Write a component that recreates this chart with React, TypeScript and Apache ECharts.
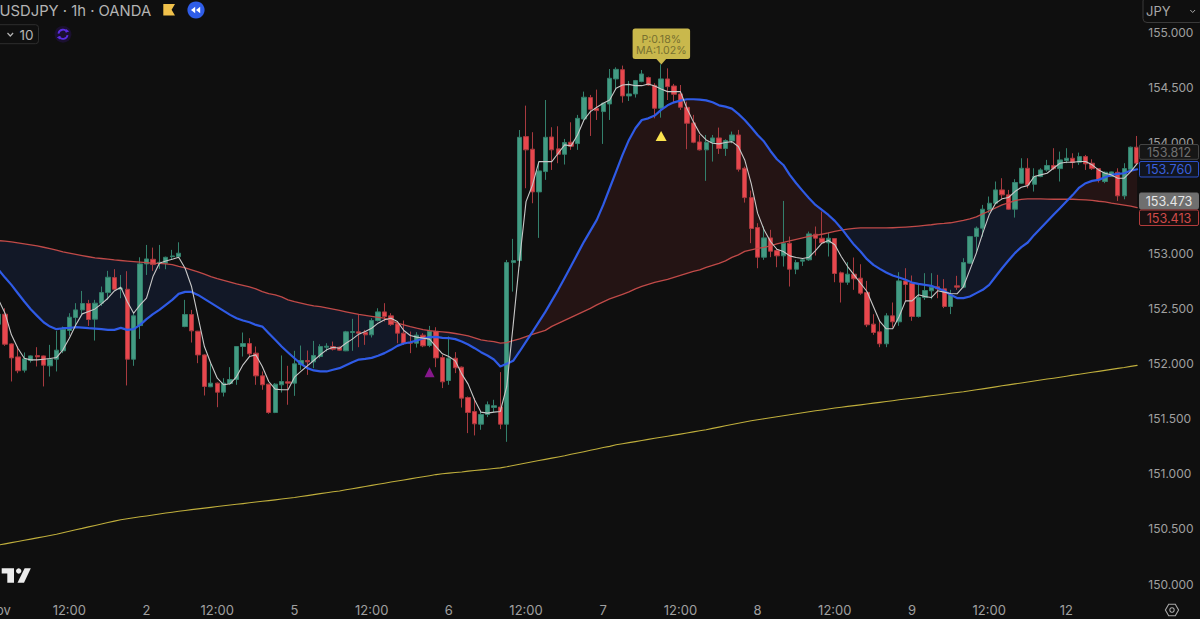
import React, { useEffect, useRef } from "react";
import * as echarts from "echarts";

// [open, close, low, high] per hourly bar
const candles: number[][] = [
[152.355,152.446,152.334,152.485],[152.446,152.174,152.159,152.500],[152.177,152.050,151.836,152.183],[152.059,151.933,151.911,152.153],[151.939,152.041,151.917,152.099],
[152.026,152.068,152.008,152.072],[152.071,152.059,151.972,152.147],[152.068,151.984,151.791,152.072],[151.978,152.038,151.881,152.168],[152.038,152.120,151.927,152.295],
[152.114,152.310,152.093,152.334],[152.298,152.419,152.250,152.455],[152.416,152.485,152.334,152.546],[152.485,152.543,152.440,152.657],[152.543,152.398,152.340,152.576],
[152.401,152.546,152.207,152.576],[152.546,152.642,152.521,152.697],[152.642,152.781,152.576,152.839],[152.778,152.672,152.660,152.854],[152.672,152.682,152.591,152.802],
[152.672,152.038,151.800,152.836],[152.038,152.431,151.978,152.455],[152.343,152.902,152.222,152.962],[152.902,152.947,152.802,153.074],[152.944,152.896,152.839,153.050],
[152.908,152.917,152.857,153.074],[152.908,152.962,152.854,152.968],[152.968,152.974,152.938,153.029],[152.968,152.999,152.953,153.098],[152.334,152.443,152.328,152.576],
[152.443,152.295,152.189,152.485],[152.292,152.077,152.002,152.295],[152.077,151.791,151.709,152.083],[151.788,151.821,151.785,152.002],[151.821,151.739,151.603,151.827],
[151.739,151.821,151.700,151.866],[151.818,151.854,151.806,151.966],[151.854,152.153,151.806,152.157],[152.153,152.180,152.062,152.280],[152.180,152.087,152.062,152.229],
[152.093,151.887,151.806,152.153],[151.887,151.806,151.761,151.927],[151.812,151.555,151.543,151.815],[151.555,151.812,151.549,151.821],[151.806,151.836,151.736,152.072],
[151.833,151.821,151.625,151.978],[151.821,151.996,151.706,152.114],[151.990,152.026,151.942,152.162],[152.026,152.014,151.896,152.117],[152.014,152.072,151.957,152.204],
[152.063,152.153,152.047,152.174],[152.147,152.156,152.108,152.183],[152.153,152.129,152.117,152.198],[152.147,152.120,152.114,152.153],[152.114,152.286,152.111,152.295],
[152.280,152.289,152.114,152.404],[152.286,152.274,152.147,152.440],[152.283,152.259,152.168,152.304],[152.259,152.389,152.235,152.410],[152.389,152.467,152.380,152.500],
[152.467,152.425,152.380,152.546],[152.431,152.352,152.340,152.455],[152.359,152.274,152.183,152.380],[152.274,152.183,152.168,152.389],[152.189,152.183,152.093,152.289],
[152.183,152.256,152.144,152.283],[152.256,152.159,152.147,152.274],[152.162,152.292,152.147,152.340],[152.292,152.050,151.966,152.328],[152.053,151.833,151.776,152.078],
[151.845,152.047,151.806,152.244],[152.047,151.960,151.912,152.102],[151.966,151.685,151.600,151.972],[151.691,151.555,151.368,151.700],[151.564,151.452,151.347,151.685],
[151.449,151.537,151.398,151.564],[151.537,151.625,151.513,151.655],[151.601,151.616,151.558,151.670],[151.604,151.449,151.404,151.921],[151.449,152.914,151.289,152.938],
[152.914,152.932,152.651,153.129],[152.932,154.050,152.878,154.116],[154.056,153.936,153.588,154.337],[153.942,153.555,153.452,154.096],[153.555,153.745,153.138,153.830],
[153.739,154.050,153.664,154.388],[154.053,153.936,153.754,154.141],[153.945,153.896,153.815,154.150],[153.896,154.002,153.803,154.035],[154.005,153.969,153.936,154.186],
[153.993,154.222,153.936,154.253],[154.216,154.413,154.192,154.464],[154.410,154.304,154.062,154.434],[154.313,154.292,154.207,154.482],[154.283,154.358,153.990,154.364],
[154.352,154.585,154.207,154.669],[154.579,154.666,154.485,154.684],[154.663,154.425,154.364,154.700],[154.425,154.443,154.379,154.561],[154.443,154.564,154.410,154.570],
[154.555,154.624,154.549,154.660],[154.591,154.524,154.518,154.600],[154.521,154.313,154.222,154.540],[154.313,154.579,154.228,154.712],[154.579,154.509,154.388,154.675],
[154.515,154.440,154.358,154.534],[154.443,154.322,154.298,154.524],[154.322,154.177,153.942,154.373],[154.180,154.005,153.996,154.253],[154.008,153.936,153.930,154.071],
[153.936,154.005,153.655,154.071],[154.002,154.044,153.830,154.071],[154.044,153.948,153.899,154.138],[153.948,154.020,153.881,154.032],[154.017,154.071,153.996,154.102],
[154.071,153.760,153.739,154.117],[153.769,153.503,153.458,153.784],[153.503,153.223,153.090,153.567],[153.232,152.963,152.863,153.271],[152.963,153.138,152.939,153.241],
[153.138,153.017,152.963,153.211],[153.023,152.975,152.872,153.044],[152.975,153.090,152.878,153.473],[153.090,152.854,152.697,153.150],[152.854,152.915,152.809,152.939],
[152.927,152.939,152.884,152.954],[152.939,153.174,152.930,153.195],[153.171,153.135,152.978,153.241],[153.135,153.093,153.084,153.377],[153.093,153.135,152.969,153.186],
[153.132,152.815,152.736,153.135],[152.821,152.736,152.552,152.833],[152.736,152.809,152.712,152.918],[152.809,152.767,152.667,152.960],[152.773,152.637,152.622,152.899],
[152.643,152.350,152.329,152.748],[152.356,152.280,152.259,152.446],[152.286,152.178,152.147,152.380],[152.178,152.431,152.147,152.455],[152.431,152.377,152.326,152.552],
[152.377,152.748,152.341,152.827],[152.748,152.715,152.561,152.863],[152.727,152.425,152.386,152.797],[152.425,152.597,152.416,152.727],[152.597,152.661,152.576,152.818],
[152.658,152.691,152.582,152.818],[152.694,152.676,152.591,152.803],[152.676,152.516,152.501,152.764],[152.516,152.622,152.447,152.667],[152.703,152.691,152.667,152.794],
[152.691,152.915,152.682,152.954],[152.909,153.150,152.903,153.156],[153.150,153.226,152.999,153.241],[153.226,153.398,153.150,153.437],[153.392,153.452,153.362,153.513],
[153.452,153.573,153.446,153.649],[153.573,153.528,153.492,153.679],[153.528,153.398,153.392,153.573],[153.398,153.640,153.322,153.670],[153.634,153.769,153.628,153.860],
[153.769,153.618,153.588,153.860],[153.624,153.694,153.558,153.769],[153.694,153.754,153.688,153.769],[153.754,153.794,153.739,153.845],[153.794,153.766,153.754,153.951],
[153.766,153.845,153.649,153.920],[153.839,153.860,153.815,153.951],[153.860,153.821,153.769,153.905],[153.824,153.875,153.800,153.911],[153.875,153.809,153.754,153.890],
[153.815,153.766,153.754,153.851],[153.766,153.664,153.640,153.769],[153.649,153.733,153.634,153.739],[153.694,153.736,153.694,153.739],[153.733,153.519,153.473,153.769],
[153.519,153.766,153.488,153.815],[153.760,153.960,153.754,153.966],[153.960,153.815,153.800,154.062],
];

const fastMA: number[] = [
152.576,152.455,152.259,152.138,152.047,152.032,152.032,152.038,152.044,152.053,152.123,152.229,152.349,152.449,152.470,152.494,152.540,152.591,152.657,152.691,
152.561,152.455,152.531,152.591,152.787,152.908,152.929,152.944,152.962,152.863,152.697,152.425,152.153,152.002,151.866,151.806,151.815,151.881,151.987,152.062,
152.077,151.972,151.836,151.767,151.761,151.761,151.875,151.927,151.978,152.026,152.078,152.123,152.147,152.138,152.183,152.220,152.265,152.289,152.319,152.365,
152.395,152.410,152.380,152.298,152.253,152.238,152.229,152.220,152.153,152.087,152.063,152.023,151.905,151.812,151.670,151.558,151.549,151.558,151.564,151.791,
152.349,152.938,153.467,153.618,153.829,153.829,153.829,153.905,153.981,153.972,154.071,154.207,154.283,154.322,154.358,154.388,154.494,154.524,154.530,154.518,
154.518,154.533,154.515,154.488,154.464,154.464,154.464,154.313,154.192,154.086,154.026,153.996,153.990,154.002,154.011,153.966,153.845,153.633,153.362,153.211,
153.105,153.035,153.014,152.975,152.960,152.951,152.963,153.023,153.090,153.114,153.075,152.969,152.878,152.803,152.727,152.652,152.516,152.380,152.314,152.314,
152.425,152.567,152.567,152.622,152.606,152.597,152.658,152.646,152.634,152.631,152.697,152.848,153.000,153.181,153.347,153.452,153.492,153.504,153.558,153.597,
153.612,153.694,153.709,153.724,153.769,153.815,153.824,153.824,153.830,153.830,153.800,153.754,153.724,153.709,153.679,153.679,153.739,153.812,
];

const midMA: number[] = [
152.848,152.778,152.712,152.636,152.561,152.491,152.431,152.373,152.334,152.310,152.319,152.322,152.328,152.325,152.319,152.316,152.310,152.304,152.304,152.322,
152.304,152.310,152.349,152.401,152.446,152.485,152.531,152.576,152.630,152.648,152.648,152.621,152.585,152.549,152.512,152.476,152.440,152.410,152.389,152.373,
152.349,152.334,152.274,152.214,152.153,152.099,152.047,151.996,151.957,151.936,151.927,151.927,151.942,151.957,151.984,152.011,152.035,152.041,152.050,152.069,
152.093,152.123,152.159,152.180,152.192,152.207,152.226,152.238,152.241,152.232,152.229,152.220,152.198,152.171,152.138,152.102,152.072,152.035,151.972,151.996,
152.023,152.108,152.198,152.286,152.376,152.467,152.567,152.667,152.775,152.884,152.993,153.102,153.201,153.301,153.437,153.588,153.739,153.890,154.026,154.132,
154.207,154.222,154.247,154.298,154.340,154.367,154.382,154.395,154.395,154.392,154.385,154.367,154.340,154.328,154.310,154.262,154.207,154.141,154.071,154.011,
153.926,153.851,153.799,153.709,153.633,153.564,153.497,153.437,153.392,153.346,153.292,153.226,153.150,153.075,153.014,152.945,152.893,152.857,152.824,152.797,
152.779,152.758,152.733,152.721,152.712,152.703,152.682,152.658,152.622,152.592,152.592,152.607,152.637,152.667,152.712,152.788,152.863,152.933,153.000,153.054,
153.096,153.165,153.226,153.286,153.347,153.407,153.467,153.528,153.594,153.634,153.655,153.664,153.688,153.709,153.718,153.724,153.748,153.760,
];

const slowMA: number[] = [
153.113,153.108,153.101,153.092,153.083,153.074,153.065,153.053,153.041,153.026,153.011,152.999,152.988,152.977,152.967,152.957,152.951,152.945,152.938,152.933,
152.927,152.922,152.918,152.913,152.908,152.907,152.902,152.895,152.879,152.866,152.848,152.830,152.809,152.787,152.768,152.753,152.737,152.721,152.707,152.694,
152.676,152.651,152.632,152.621,152.603,152.576,152.560,152.546,152.533,152.521,152.515,152.503,152.492,152.480,152.467,152.455,152.444,152.435,152.426,152.418,
152.410,152.388,152.365,152.349,152.333,152.319,152.307,152.298,152.291,152.286,152.280,152.271,152.261,152.250,152.232,152.213,152.204,152.198,152.184,152.189,
152.207,152.222,152.243,152.263,152.281,152.299,152.336,152.363,152.390,152.417,152.444,152.472,152.499,152.531,152.558,152.585,152.605,152.626,152.648,152.676,
152.698,152.716,152.734,152.748,152.762,152.780,152.798,152.816,152.834,152.848,152.870,152.889,152.907,152.929,152.961,152.984,153.015,153.029,153.043,153.052,
153.065,153.083,153.097,153.111,153.124,153.138,153.151,153.160,153.171,153.183,153.197,153.208,153.217,153.224,153.228,153.228,153.228,153.228,153.228,153.230,
153.233,153.236,153.240,153.245,153.251,153.257,153.265,153.269,153.275,153.285,153.296,153.310,153.328,153.355,153.382,153.410,153.437,153.455,153.476,153.487,
153.491,153.491,153.491,153.489,153.488,153.488,153.488,153.488,153.485,153.482,153.478,153.470,153.464,153.453,153.444,153.435,153.426,153.413,
];

const longMA: number[] = [
150.353,150.364,150.375,150.386,150.396,150.407,150.418,150.429,150.440,150.451,150.464,150.478,150.492,150.504,150.518,150.531,150.544,150.557,150.570,150.583,
150.591,150.600,150.609,150.617,150.626,150.635,150.643,150.651,150.660,150.667,150.674,150.681,150.688,150.695,150.702,150.709,150.716,150.723,150.729,150.736,
150.743,150.750,150.756,150.763,150.770,150.777,150.784,150.793,150.801,150.810,150.819,150.827,150.836,150.843,150.854,150.864,150.874,150.884,150.894,150.904,
150.914,150.924,150.934,150.943,150.953,150.963,150.972,150.982,150.992,150.999,151.005,151.011,151.016,151.023,151.029,151.035,151.041,151.047,151.053,151.063,
151.075,151.086,151.097,151.108,151.119,151.130,151.141,151.152,151.163,151.176,151.187,151.199,151.212,151.224,151.237,151.248,151.262,151.272,151.282,151.291,
151.301,151.311,151.321,151.330,151.340,151.350,151.359,151.369,151.379,151.389,151.398,151.411,151.422,151.434,151.446,151.458,151.469,151.480,151.489,151.498,
151.507,151.516,151.525,151.534,151.543,151.552,151.561,151.570,151.578,151.586,151.595,151.603,151.610,151.617,151.624,151.632,151.640,151.647,151.654,151.662,
151.670,151.677,151.684,151.691,151.699,151.706,151.714,151.721,151.729,151.736,151.743,151.752,151.761,151.769,151.778,151.787,151.797,151.805,151.814,151.823,
151.831,151.840,151.849,151.858,151.866,151.875,151.884,151.894,151.902,151.911,151.920,151.928,151.937,151.946,151.955,151.963,151.973,151.982,
];

// bar index -> time-axis label
const timeTicks: [number, string][] = [
  [0, "Nov"], [11, "12:00"], [23, "2"], [34, "12:00"], [46, "5"], [58, "12:00"], [70, "6"],
  [82, "12:00"], [94, "7"], [106, "12:00"], [118, "8"], [130, "12:00"], [142, "9"], [154, "12:00"], [166, "12"],
];
const priceTags: [string, string][] = [["153.812", "ma5"], ["153.760", "ma20"], ["153.473", "last"], ["153.413", "ma60"]];
const upSignal: [number, number][] = [[103, 154.062]];
const downSignal: [number, number][] = [[67, 151.92]];
const calloutLines = ["P:0.18%", "MA:1.02%"];
const headerTitle = "USDJPY · 1h · OANDA";

const BG = "#0f0f0f";
const FONT = "Inter, 'Noto Sans', sans-serif";
const categories = candles.map(() => "");
timeTicks.forEach(([i, t]) => (categories[i] = t));
const shown = new Set(timeTicks.map((t) => t[0]));

// Contiguous runs where the mid MA stays on one side of the slow MA
type Run = { from: number; to: number; above: boolean; startT: number; endT: number };
const runs: Run[] = [];
{
  const diff = (i: number) => midMA[i] - slowMA[i];
  let start = 0;
  let startT = 0;
  for (let i = 0; i < midMA.length - 1; i++) {
    const a = diff(i);
    const b = diff(i + 1);
    if (a * b < 0) {
      const t = a / (a - b);
      runs.push({ from: start, to: i, above: a > 0, startT, endT: t });
      start = i + 1;
      startT = t;
    }
  }
  runs.push({ from: start, to: midMA.length - 1, above: diff(midMA.length - 1) > 0, startT, endT: -1 });
}

const renderBand = (params: any, api: any) => {
  const r = runs[params.dataIndex];
  const upper: number[][] = [];
  const lower: number[][] = [];
  if (r.from > 0) {
    const p = api.coord([r.from - 1, midMA[r.from - 1]]);
    const q = api.coord([r.from, midMA[r.from]]);
    const t = r.startT;
    upper.push([p[0] + (q[0] - p[0]) * t, p[1] + (q[1] - p[1]) * t]);
  }
  for (let i = r.from; i <= r.to; i++) {
    upper.push(api.coord([i, midMA[i]]));
    lower.unshift(api.coord([i, slowMA[i]]));
  }
  if (r.endT >= 0) {
    const p = api.coord([r.to, midMA[r.to]]);
    const q = api.coord([r.to + 1, midMA[r.to + 1]]);
    upper.push([p[0] + (q[0] - p[0]) * r.endT, p[1] + (q[1] - p[1]) * r.endT]);
  }
  return {
    type: "polygon",
    silent: true,
    shape: { points: upper.concat(lower) },
    style: { fill: r.above ? "#241414" : "#121827", stroke: "none" },
  };
};

const txt = (x: number, y: number, text: string, fill: string, size: number, align = "left", z = 20) => ({
  type: "text",
  x,
  y,
  z,
  style: { text, fill, fontSize: size, fontFamily: FONT, align, verticalAlign: "middle" },
});

const tagStyles: Record<string, { border: string; fill: string; color: string }> = {
  ma5: { border: "#454545", fill: "#161616", color: "#707070" },
  ma20: { border: "#2c50c8", fill: "#11151f", color: "#3a60dc" },
  last: { border: "#6f6f6f", fill: "#6f6f6f", color: "#e6e6e6" },
  ma60: { border: "#b23c3c", fill: "#171010", color: "#cf4b4a" },
};
const tagBoxes = [[144.5, 14.8], [161.5, 15.5], [193, 16], [210, 15.5]];

const hexagon = (cx: number, cy: number, r: number) => {
  const pts: number[][] = [];
  for (let k = 0; k < 6; k++) {
    const a = (Math.PI / 3) * k;
    pts.push([cx + r * Math.cos(a), cy + r * Math.sin(a)]);
  }
  return pts;
};

const buildGraphics = () => {
  const els: any[] = [
    // plot edge on the right: nothing is drawn past the last bar's centre
    { type: "rect", z: 5, silent: true, shape: { x: 1138.4, y: 0, width: 62, height: 619 }, style: { fill: BG } },
    // header
    txt(-0.5, 10.5, headerTitle, "#b4b4b4", 14.8),
    { type: "polygon", z: 20, shape: { points: [[163.3, 4], [175, 4], [171.6, 9.8], [175, 15.6], [163.3, 15.6]] }, style: { fill: "#f0c14b" } },
    { type: "circle", z: 20, shape: { cx: 196, cy: 10, r: 8.6 }, style: { fill: "#2f5de8" } },
    { type: "polygon", z: 21, shape: { points: [[191, 10], [195.2, 6.8], [195.2, 13.2]] }, style: { fill: "#ffffff" } },
    { type: "polygon", z: 21, shape: { points: [[196, 10], [200.2, 6.8], [200.2, 13.2]] }, style: { fill: "#ffffff" } },
    // interval control
    { type: "rect", z: 20, shape: { x: -3, y: 24.7, width: 41.5, height: 19, r: 3 }, style: { fill: "none", stroke: "#2e2e2e", lineWidth: 1 } },
    { type: "polyline", z: 20, shape: { points: [[7.5, 33], [10.3, 36], [13.1, 33]] }, style: { fill: "none", stroke: "#b4b4b4", lineWidth: 1.2 } },
    txt(19.5, 35, "10", "#b4b4b4", 13.5),
    // purple refresh badge
    { type: "circle", z: 20, shape: { cx: 63, cy: 34.3, r: 8.4 }, style: { fill: "#1b1030" } },
    { type: "arc", z: 21, shape: { cx: 63, cy: 34.3, r: 4.6, startAngle: Math.PI * 1.05, endAngle: Math.PI * 1.85 }, style: { fill: "none", stroke: "#5a2de0", lineWidth: 1.8 } },
    { type: "arc", z: 21, shape: { cx: 63, cy: 34.3, r: 4.6, startAngle: Math.PI * 0.05, endAngle: Math.PI * 0.85 }, style: { fill: "none", stroke: "#5a2de0", lineWidth: 1.8 } },
    { type: "polygon", z: 21, shape: { points: [[66.2, 29], [69.2, 31.4], [65.4, 32.6]] }, style: { fill: "#5a2de0" } },
    { type: "polygon", z: 21, shape: { points: [[59.8, 39.6], [56.8, 37.2], [60.6, 36]] }, style: { fill: "#5a2de0" } },
    // currency selector
    { type: "rect", z: 20, shape: { x: 1143, y: -3, width: 60, height: 25.5, r: 4 }, style: { fill: BG, stroke: "#3a3a3a", lineWidth: 1 } },
    txt(1146, 10.7, "JPY", "#a8a8a8", 13),
    { type: "polyline", z: 21, shape: { points: [[1190.3, 10], [1192.7, 12.5], [1195.1, 10]] }, style: { fill: "none", stroke: "#a8a8a8", lineWidth: 1 } },
    // callout
    { type: "polygon", z: 20, shape: { points: [[656, 58.6], [661.3, 64.5], [666.6, 58.6]] }, style: { fill: "#c9b84c" } },
    { type: "rect", z: 20, shape: { x: 632.6, y: 28.6, width: 57.5, height: 30.4, r: 2.5 }, style: { fill: "#c9b84c" } },
    txt(661.3, 39, calloutLines[0], "#77702f", 10.6, "center", 21),
    txt(661.3, 50.7, calloutLines[1], "#77702f", 10.6, "center", 21),
    // brand mark
    { type: "polygon", z: 20, shape: { points: [[1.7, 568.3], [14, 568.3], [14, 582.7], [7.3, 582.7], [7.3, 573.4], [1.7, 573.4]] }, style: { fill: "#ececec" } },
    { type: "circle", z: 20, shape: { cx: 18.7, cy: 571, r: 2.7 }, style: { fill: "#ececec" } },
    { type: "polygon", z: 20, shape: { points: [[24.6, 568.3], [30.8, 568.3], [24, 582.7], [17.5, 582.7]] }, style: { fill: "#ececec" } },
    // settings
    { type: "polygon", z: 20, shape: { points: hexagon(1172, 610, 6.6) }, style: { fill: "none", stroke: "#a8a8a8", lineWidth: 1.1 } },
    { type: "circle", z: 20, shape: { cx: 1172, cy: 610, r: 2.2 }, style: { fill: "none", stroke: "#a8a8a8", lineWidth: 1.1 } },
  ];
  priceTags.forEach(([value, key], i) => {
    const s = tagStyles[key];
    const [y, h] = tagBoxes[i];
    els.push({ type: "rect", z: 20, shape: { x: 1139.5, y, width: 59, height: h, r: 1.5 }, style: { fill: s.fill, stroke: s.border, lineWidth: 1 } });
    els.push(txt(1169, y + h / 2 + 0.3, value, s.color, 12.6, "center", 21));
  });
  return els;
};

const lineSeries = (name: string, data: number[], color: string, width: number, z: number) => ({
  name,
  type: "line",
  data,
  z,
  symbol: "none",
  showSymbol: false,
  smooth: false,
  silent: true,
  clip: false,
  lineStyle: { color, width, cap: "round", join: "round" },
});

export default function App() {
  const ref = useRef<HTMLDivElement>(null);
  useEffect(() => {
    if (!ref.current) return;
    const chart = echarts.init(ref.current, null, { renderer: "svg" });
    chart.setOption({
      animation: false,
      backgroundColor: BG,
      grid: { left: -4.65, top: 32.5, width: 1145, height: 551.5, containLabel: false, outerBoundsMode: "none" },
      xAxis: {
        type: "category",
        data: categories,
        boundaryGap: true,
        axisLine: { show: false },
        axisTick: { show: false },
        splitLine: { show: false },
        axisLabel: {
          interval: (i: number) => shown.has(i),
          hideOverlap: false,
          margin: 19,
          color: "#a0a0a0",
          fontSize: 13,
          fontFamily: FONT,
        },
      },
      yAxis: {
        type: "value",
        position: "right",
        min: 150,
        max: 155,
        interval: 0.5,
        z: 6,
        axisLine: { show: false },
        axisTick: { show: false },
        splitLine: { show: false },
        axisLabel: {
          margin: 8,
          color: "#a0a0a0",
          fontSize: 12,
          fontFamily: FONT,
          // the 153.500 tick sits fully behind the last-price tag
          formatter: (v: number) => (v === 153.5 ? "" : v.toFixed(3)),
        },
      },
      series: [
        {
          type: "custom",
          z: 1,
          silent: true,
          clip: false,
          renderItem: renderBand,
          encode: { x: 0, y: 1 },
          data: runs.map((r, k) => [k, midMA[r.from]]),
        },
        {
          type: "candlestick",
          z: 2,
          silent: true,
          barWidth: 4.8,
          data: candles,
          itemStyle: {
            color: "#439b83",
            color0: "#e8474d",
            borderColor: "#33806c",
            borderColor0: "#a83a3f",
            borderWidth: 1,
          },
        },
        lineSeries("slow", slowMA, "#c04a48", 1.3, 3),
        lineSeries("mid", midMA, "#2f5be6", 2.2, 3),
        lineSeries("long", longMA, "#bfae3c", 1.1, 3),
        lineSeries("fast", fastMA, "#c8c8c8", 1.1, 4),
        {
          type: "scatter",
          z: 4,
          silent: true,
          symbol: "triangle",
          symbolSize: [11, 10],
          itemStyle: { color: "#fbe44e", opacity: 1 },
          data: upSignal,
        },
        {
          type: "scatter",
          z: 4,
          silent: true,
          symbol: "triangle",
          symbolSize: [10, 10],
          itemStyle: { color: "#86188c", opacity: 1 },
          data: downSignal,
        },
      ],
      graphic: { elements: buildGraphics() },
    });
    return () => chart.dispose();
  }, []);
  return <div ref={ref} style={{ position: "fixed", left: 0, top: 0, width: 1200, height: 619, background: BG }} />;
}
